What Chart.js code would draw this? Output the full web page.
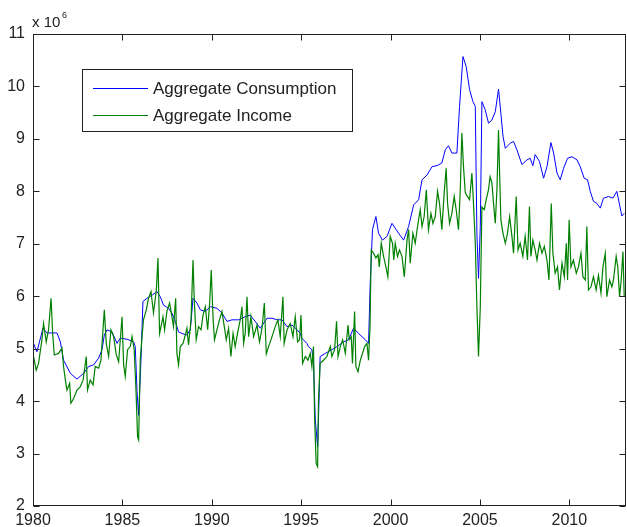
<!DOCTYPE html>
<html>
<head>
<meta charset="utf-8">
<script src="https://cdn.jsdelivr.net/npm/chart.js@4.4.1/dist/chart.umd.min.js"></script>
<style>
  html, body { margin: 0; padding: 0; background: #fff; }
  #wrap { width: 627px; height: 527px; }
</style>
</head>
<body>
<div id="wrap"><canvas id="chart" width="627" height="527"></canvas></div>
<script>
// ---- data (values in units of 10^6) ----
const xTicks = [1980, 1985, 1990, 1995, 2000, 2005, 2010];
const yTicks = [2, 3, 4, 5, 6, 7, 8, 9, 10, 11];

const consLabel = "Aggregate Consumption";
const consYears = [
  1980.03,1980.22,1980.56,1980.78,1981.34,1981.53,1981.71,1982.09,1982.46,1982.83,
  1983.11,1983.39,1983.67,1983.86,1983.99,1984.14,1984.42,1984.70,1984.88,1985.26,
  1985.63,1985.72,1985.82,1985.91,1986.04,1986.15,1986.38,1986.66,1986.94,1987.12,
  1987.30,1987.58,1987.77,1987.96,1988.14,1988.33,1988.61,1988.80,1988.95,1989.17,
  1989.36,1989.64,1989.92,1990.29,1990.57,1990.85,1991.13,1991.50,1991.87,1992.15,
  1992.43,1992.71,1993.09,1993.37,1993.65,1993.93,1994.21,1994.49,1994.77,1994.95,
  1995.04,1995.32,1995.41,1995.60,1995.69,1995.79,1995.92,1996.01,1996.06,1996.35,
  1996.72,1997.00,1997.37,1997.65,1997.93,1998.21,1998.59,1998.77,1998.86,1998.99,
  1999.18,1999.33,1999.55,1999.80,2000.08,2000.45,2000.73,2001.01,2001.29,2001.57,
  2001.76,2002.04,2002.32,2002.60,2002.87,2003.06,2003.24,2003.43,2003.71,2003.86,
  2004.05,2004.23,2004.42,2004.61,2004.74,2004.83,2004.92,2005.02,2005.11,2005.29,
  2005.48,2005.67,2005.86,2006.04,2006.17,2006.29,2006.42,2006.70,2006.88,2007.07,
  2007.35,2007.63,2007.81,2007.96,2008.09,2008.33,2008.56,2008.75,2008.97,2009.12,
  2009.31,2009.49,2009.68,2009.90,2010.15,2010.43,2010.61,2010.83,2011.02,2011.17,
  2011.35,2011.54,2011.73,2011.91,2012.19,2012.44,2012.66,2012.81,2012.94,2013.07
];
const consValues = [
  5.10,4.94,5.39,5.30,5.30,5.13,4.78,4.53,4.42,4.53,
  4.66,4.69,4.82,4.98,5.26,5.36,5.32,5.10,5.20,5.18,
  5.13,5.04,4.18,3.73,4.78,5.90,5.96,6.02,6.09,5.99,
  5.83,5.77,5.68,5.52,5.32,5.29,5.26,5.36,5.96,5.87,
  5.74,5.71,5.80,5.77,5.68,5.52,5.55,5.55,5.61,5.64,
  5.52,5.39,5.58,5.58,5.55,5.55,5.42,5.45,5.36,5.29,
  5.20,5.10,5.04,4.98,4.72,3.64,3.13,4.15,4.85,4.91,
  4.98,5.04,5.13,5.17,5.39,5.29,5.17,5.10,6.22,7.27,
  7.52,7.20,7.07,7.14,7.39,7.20,7.07,7.33,7.74,7.84,
  8.22,8.31,8.47,8.49,8.54,8.79,8.87,8.73,8.73,9.62,
  10.57,10.38,9.94,9.71,9.62,7.20,6.34,7.33,9.71,9.56,
  9.30,9.36,9.52,9.95,9.49,9.05,8.82,8.92,8.95,8.79,
  8.51,8.60,8.63,8.49,8.70,8.57,8.25,8.47,8.93,8.73,
  8.35,8.22,8.44,8.63,8.66,8.60,8.47,8.25,8.22,8.00,
  7.81,7.77,7.68,7.87,7.90,7.87,8.00,7.74,7.53,7.58
];

const incLabel = "Aggregate Income";
const incYears = [
  1980.03,1980.18,1980.31,1980.50,1980.59,1980.74,1980.87,1981.01,1981.10,1981.19,
  1981.43,1981.62,1981.71,1981.81,1981.90,1982.05,1982.12,1982.27,1982.46,1982.64,
  1982.80,1982.98,1983.05,1983.20,1983.36,1983.48,1983.67,1983.80,1983.99,1984.10,
  1984.23,1984.36,1984.51,1984.66,1984.79,1984.98,1985.07,1985.16,1985.29,1985.44,
  1985.54,1985.66,1985.76,1985.85,1985.91,1986.00,1986.10,1986.18,1986.34,1986.46,
  1986.60,1986.74,1986.90,1986.99,1987.08,1987.16,1987.27,1987.36,1987.49,1987.64,
  1987.77,1987.86,1987.98,1988.05,1988.14,1988.24,1988.39,1988.52,1988.61,1988.70,
  1988.84,1988.95,1989.02,1989.13,1989.26,1989.40,1989.51,1989.64,1989.77,1989.88,
  1989.97,1990.07,1990.15,1990.29,1990.43,1990.57,1990.70,1990.81,1990.94,1991.07,
  1991.19,1991.31,1991.44,1991.59,1991.69,1991.78,1991.87,1991.97,1992.06,1992.19,
  1992.34,1992.53,1992.67,1992.81,1992.94,1993.05,1993.18,1993.37,1993.55,1993.70,
  1993.83,1993.98,1994.05,1994.21,1994.39,1994.54,1994.67,1994.80,1994.91,1994.99,
  1995.08,1995.23,1995.38,1995.51,1995.60,1995.69,1995.75,1995.84,1995.92,1995.97,
  1996.06,1996.25,1996.44,1996.63,1996.72,1996.87,1996.98,1997.06,1997.19,1997.32,
  1997.47,1997.62,1997.69,1997.80,1997.87,1997.99,1998.06,1998.18,1998.31,1998.43,
  1998.55,1998.68,1998.77,1998.85,1998.92,1999.05,1999.18,1999.30,1999.37,1999.48,
  1999.61,1999.74,1999.85,1999.98,2000.11,2000.18,2000.26,2000.39,2000.50,2000.64,
  2000.77,2000.92,2001.01,2001.10,2001.25,2001.38,2001.51,2001.66,2001.76,2001.88,
  2002.00,2002.12,2002.26,2002.37,2002.50,2002.63,2002.74,2002.87,2003.00,2003.11,
  2003.19,2003.30,2003.43,2003.56,2003.67,2003.80,2003.90,2003.99,2004.08,2004.18,
  2004.31,2004.42,2004.55,2004.64,2004.74,2004.83,2004.92,2005.02,2005.11,2005.24,
  2005.35,2005.48,2005.57,2005.67,2005.76,2005.86,2005.95,2006.04,2006.10,2006.17,
  2006.29,2006.42,2006.54,2006.66,2006.79,2006.88,2007.03,2007.13,2007.25,2007.40,
  2007.53,2007.66,2007.77,2007.85,2007.96,2008.09,2008.19,2008.33,2008.47,2008.60,
  2008.75,2008.86,2008.99,2009.08,2009.21,2009.34,2009.45,2009.59,2009.72,2009.83,
  2009.90,2009.99,2010.09,2010.23,2010.39,2010.51,2010.65,2010.76,2010.89,2010.98,
  2011.07,2011.21,2011.35,2011.50,2011.63,2011.77,2011.88,2012.01,2012.10,2012.25,
  2012.38,2012.47,2012.62,2012.71,2012.81,2012.90,2013.00,2013.07
];
const incValues = [
  4.85,4.59,4.72,5.17,5.48,5.13,5.36,5.96,5.29,4.88,
  4.91,5.01,4.66,4.40,4.21,4.34,3.96,4.05,4.21,4.27,
  4.40,4.85,4.21,4.40,4.31,4.66,4.63,4.78,5.74,5.10,
  4.85,5.36,5.23,4.88,4.75,5.61,4.69,4.47,4.98,5.04,
  5.23,4.98,4.21,3.32,3.26,4.78,5.23,5.55,5.74,5.96,
  6.09,5.68,6.12,6.73,5.29,5.42,5.61,5.36,5.71,5.87,
  5.61,5.42,5.96,4.91,4.69,5.04,5.10,5.26,5.39,5.07,
  5.55,6.69,5.93,5.17,5.42,5.36,5.64,5.80,5.36,5.87,
  6.50,5.60,5.17,5.36,5.55,5.71,5.42,5.17,5.39,4.85,
  5.29,5.04,5.29,5.55,5.80,5.10,5.29,5.99,5.23,5.61,
  5.23,5.45,5.13,5.39,5.87,4.90,5.04,5.23,5.42,5.55,
  5.23,5.99,5.10,5.36,5.48,5.23,5.61,5.13,5.17,5.64,
  4.72,4.85,4.78,4.91,4.66,5.04,3.70,2.81,2.75,4.02,
  4.72,4.78,4.85,5.04,4.85,4.98,5.52,4.85,5.04,5.17,
  4.91,5.45,5.17,5.23,4.72,5.71,4.66,4.56,4.78,4.91,
  5.04,5.10,4.78,5.42,6.88,6.82,6.73,6.79,6.56,7.01,
  6.76,6.56,6.37,7.14,7.01,6.69,7.01,6.76,6.88,6.76,
  6.37,7.07,7.27,6.63,7.20,7.01,7.33,7.65,7.33,7.52,
  8.03,7.27,7.58,7.39,7.52,8.00,7.77,7.27,7.97,8.44,
  7.77,7.39,7.58,7.90,7.65,7.27,8.03,9.11,8.47,7.97,
  7.90,7.84,8.35,7.77,7.01,5.80,4.85,5.80,7.70,7.65,
  7.84,8.03,8.28,8.16,7.77,7.39,8.03,9.17,8.35,7.46,
  7.20,7.01,7.20,7.52,7.14,6.82,7.90,6.88,7.01,6.76,
  7.14,6.69,7.71,6.76,7.07,6.88,6.69,7.01,6.82,6.95,
  6.69,6.31,7.77,6.82,6.44,6.56,6.12,6.63,6.37,7.01,
  6.31,7.46,6.56,6.69,6.44,6.56,6.82,6.37,6.31,7.33,
  6.12,6.18,6.37,6.12,6.40,6.06,6.56,6.82,5.99,6.31,
  6.18,6.31,6.76,6.56,5.99,6.31,6.85,5.99
];

const FONT = "'Liberation Sans', Arial, Helvetica, sans-serif";

const toPoints = (xs, ys) => xs.map((x, i) => ({ x, y: ys[i] }));

// MATLAB-like box, inward ticks, exponent label and legend
const matlabFrame = {
  id: "matlabFrame",
  afterDraw(chart) {
    const { ctx, chartArea: a, scales: { x, y } } = chart;
    const L = Math.round(a.left) + 0.5, R = Math.round(a.right) - 0.5;
    const T = Math.round(a.top) + 0.5, B = Math.round(a.bottom) - 0.5;
    ctx.save();
    ctx.strokeStyle = "#222";
    ctx.lineWidth = 1;
    ctx.strokeRect(L, T, R - L, B - T);

    ctx.beginPath();
    xTicks.forEach(v => {
      const px = Math.round(x.getPixelForValue(v)) + 0.5;
      ctx.moveTo(px, B); ctx.lineTo(px, B - 6);
      ctx.moveTo(px, T); ctx.lineTo(px, T + 6);
    });
    yTicks.forEach(v => {
      const py = Math.round(y.getPixelForValue(v)) + 0.5;
      ctx.moveTo(L, py); ctx.lineTo(L + 6, py);
      ctx.moveTo(R, py); ctx.lineTo(R - 6, py);
    });
    ctx.stroke();

    // x 10^6
    ctx.fillStyle = "#222";
    ctx.textBaseline = "alphabetic";
    ctx.textAlign = "left";
    ctx.font = "15px " + FONT;
    ctx.fillText("x 10", 32, 27);
    ctx.font = "9px " + FONT;
    ctx.fillText("6", 62, 18);

    // legend
    const box = { x: 82.5, y: 69.5, w: 270, h: 62 };
    ctx.fillStyle = "#fff";
    ctx.fillRect(box.x, box.y, box.w, box.h);
    ctx.strokeStyle = "#222";
    ctx.strokeRect(box.x, box.y, box.w, box.h);
    ctx.font = "17px " + FONT;
    ctx.textBaseline = "middle";
    const rowY = [88, 115];
    [0, 1].forEach(i => {
      const ds = chart.data.datasets[i];
      ctx.strokeStyle = ds.borderColor;
      ctx.beginPath();
      ctx.moveTo(93, rowY[i] + 0.5);
      ctx.lineTo(148, rowY[i] + 0.5);
      ctx.stroke();
      ctx.fillStyle = "#222";
      ctx.fillText(ds.label, 153, rowY[i] + 1);
    });
    ctx.restore();
  }
};

new Chart(document.getElementById("chart"), {
  type: "line",
  data: {
    datasets: [
      {
        label: consLabel,
        data: toPoints(consYears, consValues),
        borderColor: "#0000ff",
        borderWidth: 1,
        pointRadius: 0,
        tension: 0,
        fill: false,
        order: 1,
      },
      {
        label: incLabel,
        data: toPoints(incYears, incValues),
        borderColor: "#008000",
        borderWidth: 1.2,
        pointRadius: 0,
        tension: 0,
        fill: false,
        order: 0,
      },
    ],
  },
  options: {
    responsive: false,
    animation: false,
    layout: { padding: { top: 34, right: 1, left: 0, bottom: 0 } },
    scales: {
      x: {
        type: "linear",
        min: 1980,
        max: 2013.17,
        afterBuildTicks: s => { s.ticks = xTicks.map(v => ({ value: v })); },
        afterFit: s => { s.height = 21; },
        grid: { display: false, drawTicks: false },
        border: { display: false },
        ticks: {
          padding: 5,
          color: "#222",
          font: { family: FONT, size: 16 },
          maxRotation: 0,
          callback: v => String(v),
        },
      },
      y: {
        min: 2,
        max: 11,
        afterBuildTicks: s => { s.ticks = yTicks.map(v => ({ value: v })); },
        afterFit: s => { s.width = 33; },
        grid: { display: false, drawTicks: false },
        border: { display: false },
        ticks: {
          padding: 8,
          color: "#222",
          font: { family: FONT, size: 16 },
          callback: v => String(v),
        },
      },
    },
    plugins: {
      legend: { display: false },
      tooltip: { enabled: false },
    },
  },
  plugins: [matlabFrame],
});
</script>
</body>
</html>
